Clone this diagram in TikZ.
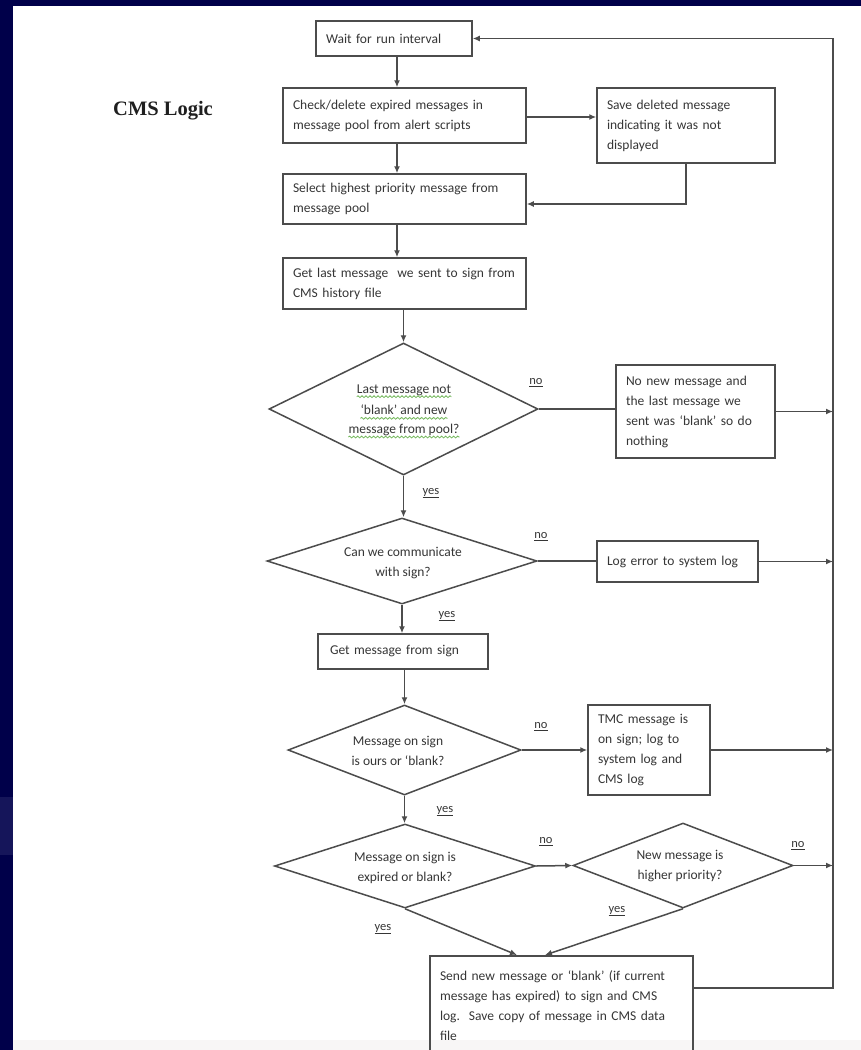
\documentclass[tikz,border=0pt]{standalone}
\usepackage{fontspec}
\setmainfont{Carlito}
\newfontfamily\titlefont{Liberation Serif}
\usetikzlibrary{shapes.geometric,arrows.meta,decorations.pathmorphing}
\definecolor{navy}{HTML}{00004A}
\definecolor{navypatch}{HTML}{15155A}
\definecolor{ink}{HTML}{363636}
\definecolor{edge}{HTML}{4C4C4C}
\definecolor{squiggle}{HTML}{72B85A}
\definecolor{pagefoot}{HTML}{F8F6F6}

\begin{document}
\begin{tikzpicture}[x=1pt,y=-1pt,
  every node/.style={font=\fontsize{13.5}{20}\selectfont, text=ink},
  box/.style={draw=edge, line width=1.5pt, rectangle, inner xsep=10pt, inner ysep=0pt, align=left},
  dia/.style={draw=edge, line width=1.5pt, diamond, inner sep=0pt},
  dtext/.style={align=center, inner sep=0pt},
  dline/.style={inner sep=0pt},
  lbl/.style={font=\fontsize{12.5}{15}\selectfont, inner sep=0pt},
  arr/.style={draw=edge, line width=1.5pt, -{Latex[length=7pt,width=6pt]}},
  ln/.style={draw=edge, line width=1.5pt},
  squig/.style={draw=squiggle, line width=0.8pt, decorate, decoration={snake, segment length=4pt, amplitude=0.9pt}},
]
\useasboundingbox (0,0) rectangle (861,1050);
\clip (0,0) rectangle (861,1050);

% slide background
\fill[white] (0,0) rectangle (861,1050);
\fill[pagefoot] (13,1040) rectangle (861,1050);
\fill[navy] (0,0) rectangle (13,1050);
\fill[navy] (0,0) rectangle (861,6);
\fill[navypatch] (0,797) rectangle (13,855);

% title
\node[font=\titlefont\bfseries\fontsize{20.5}{24}\selectfont, text=black!88, anchor=base west, inner sep=0pt] (title) at (113,115) {CMS Logic};

% helper coordinates for connector routing
\coordinate (rail) at (833,0);
\coordinate (c397) at (397,0);
\coordinate (y117) at (0,117);
\coordinate (y204) at (0,204);
\coordinate (y988) at (0,988);
\coordinate (j1) at (517,0);
\coordinate (j2) at (545,0);

% process boxes
\node[box, text width=136pt, minimum height=35pt] (A) at (394,38.5) {Wait for run interval};
\node[box, text width=223pt, minimum height=55pt] (B) at (404.5,115.5) {Check/delete expired messages in\\message pool from alert scripts};
\node[box, text width=158pt, minimum height=75pt] (C) at (686,125.5) {Save deleted message\\indicating it was not\\displayed};
\node[box, text width=223pt, minimum height=50pt] (D) at (404.5,199) {Select highest priority message from\\message pool};
\node[box, text width=223pt, minimum height=51pt] (E) at (404.5,283.5) {Get last message\ \ we sent to sign from\\CMS history file};
\node[box, text width=139pt, minimum height=93pt] (F) at (695.5,411.5) {No new message and\\the last message we\\sent was `blank' so do\\nothing};
\node[box, text width=141pt, minimum height=41pt] (G) at (677.5,561.5) {Log error to system log};
\node[box, inner xsep=12pt, text width=146pt, minimum height=35pt] (H) at (403,651.5) {Get message from sign};
\node[box, text width=102pt, minimum height=90pt] (I) at (649,750) {TMC message is\\on sign; log to\\system log and\\CMS log};
\node[box, anchor=north, text width=243pt, minimum height=100pt, inner ysep=8pt] (J) at (561.5,955) {Send new message or `blank' (if current\\message has expired) to sign and CMS\\log.\ \ Save copy of message in CMS data\\file};

% decision diamonds
\node[dia, minimum width=269pt, minimum height=132pt] (d1) at (403.5,409) {};
\node[dline] (d1a) at (404,390) {Last message not};
\node[dline] (d1b) at (404,410) {`blank' and new};
\node[dline] (d1c) at (404,430) {message from pool?};
\foreach \l in {d1a,d1b,d1c}
  \draw[squig] ([yshift=-3.5pt]\l.base west) -- ([yshift=-3.5pt]\l.base east);
\node[dia, minimum width=270pt, minimum height=86pt] (d2) at (402,561) {};
\node[dtext] (d2t) at (403,563) {Can we communicate\\with sign?};
\node[dia, minimum width=233pt, minimum height=90pt] (d3) at (404.5,750) {};
\node[dtext] (d3t) at (398,751) {Message on sign\\is ours or `blank?};
\node[dia, minimum width=261pt, minimum height=84pt] (d4) at (405,866) {};
\node[dtext] (d4t) at (405,867.5) {Message on sign is\\expired or blank?};
\node[dia, minimum width=220pt, minimum height=85pt] (d5) at (683,865.5) {};
\node[dtext] (d5t) at (680,866.5) {New message is\\higher priority?};

% branch labels
\node[lbl] (no1) at (536,383) {\underline{no}};
\node[lbl] (yes1) at (431,493) {\underline{yes}};
\node[lbl] (no2) at (541,537) {\underline{no}};
\node[lbl] (yes2) at (447,616) {\underline{yes}};
\node[lbl] (no3) at (541,727) {\underline{no}};
\node[lbl] (yes3) at (445,811) {\underline{yes}};
\node[lbl] (no4) at (546,842) {\underline{no}};
\node[lbl] (no5) at (798,846) {\underline{no}};
\node[lbl] (yes5) at (617,911) {\underline{yes}};
\node[lbl] (yes4) at (383,929) {\underline{yes}};

% main flow
\draw[arr] (A.south -| c397) -- (B.north -| c397);
\draw[arr] (B.east |- y117) -- (C.west |- y117);
\draw[arr] (C.south) |- (D.east |- y204);
\draw[arr] (B.south -| c397) -- (D.north -| c397);
\draw[arr] (D.south -| c397) -- (E.north -| c397);
\draw[arr] (E.south -| d1.north) -- (d1.north);
\draw[ln] (d1.east) -- (d1.east -| F.west);
\draw[arr] (F.east) -- (F.east -| rail);
\draw[arr] (d1.south) -- (d1.south |- d2.north);
\draw[ln] (d2.east) -- (d2.east -| G.west);
\draw[arr] (G.east) -- (G.east -| rail);
\draw[arr] (d2.south) -- (d2.south |- H.north);
\draw[arr] (H.south -| d3.north) -- (d3.north);
\draw[arr] (d3.east) -- (d3.east -| I.west);
\draw[arr] (I.east) -- (I.east -| rail);
\draw[arr] (d3.south) -- (d3.south |- d4.north);
\draw[arr] (d4.east) -- (d5.west);
\draw[arr] (d5.east) -- (d5.east -| rail);
\draw[arr] (d4.south) -- (J.north -| j1);
\draw[arr] (d5.south) -- (J.north -| j2);

% return loop to the start
\draw[arr] (J.east |- y988) -| (A.east -| rail) -- (A.east);
\end{tikzpicture}
\end{document}
